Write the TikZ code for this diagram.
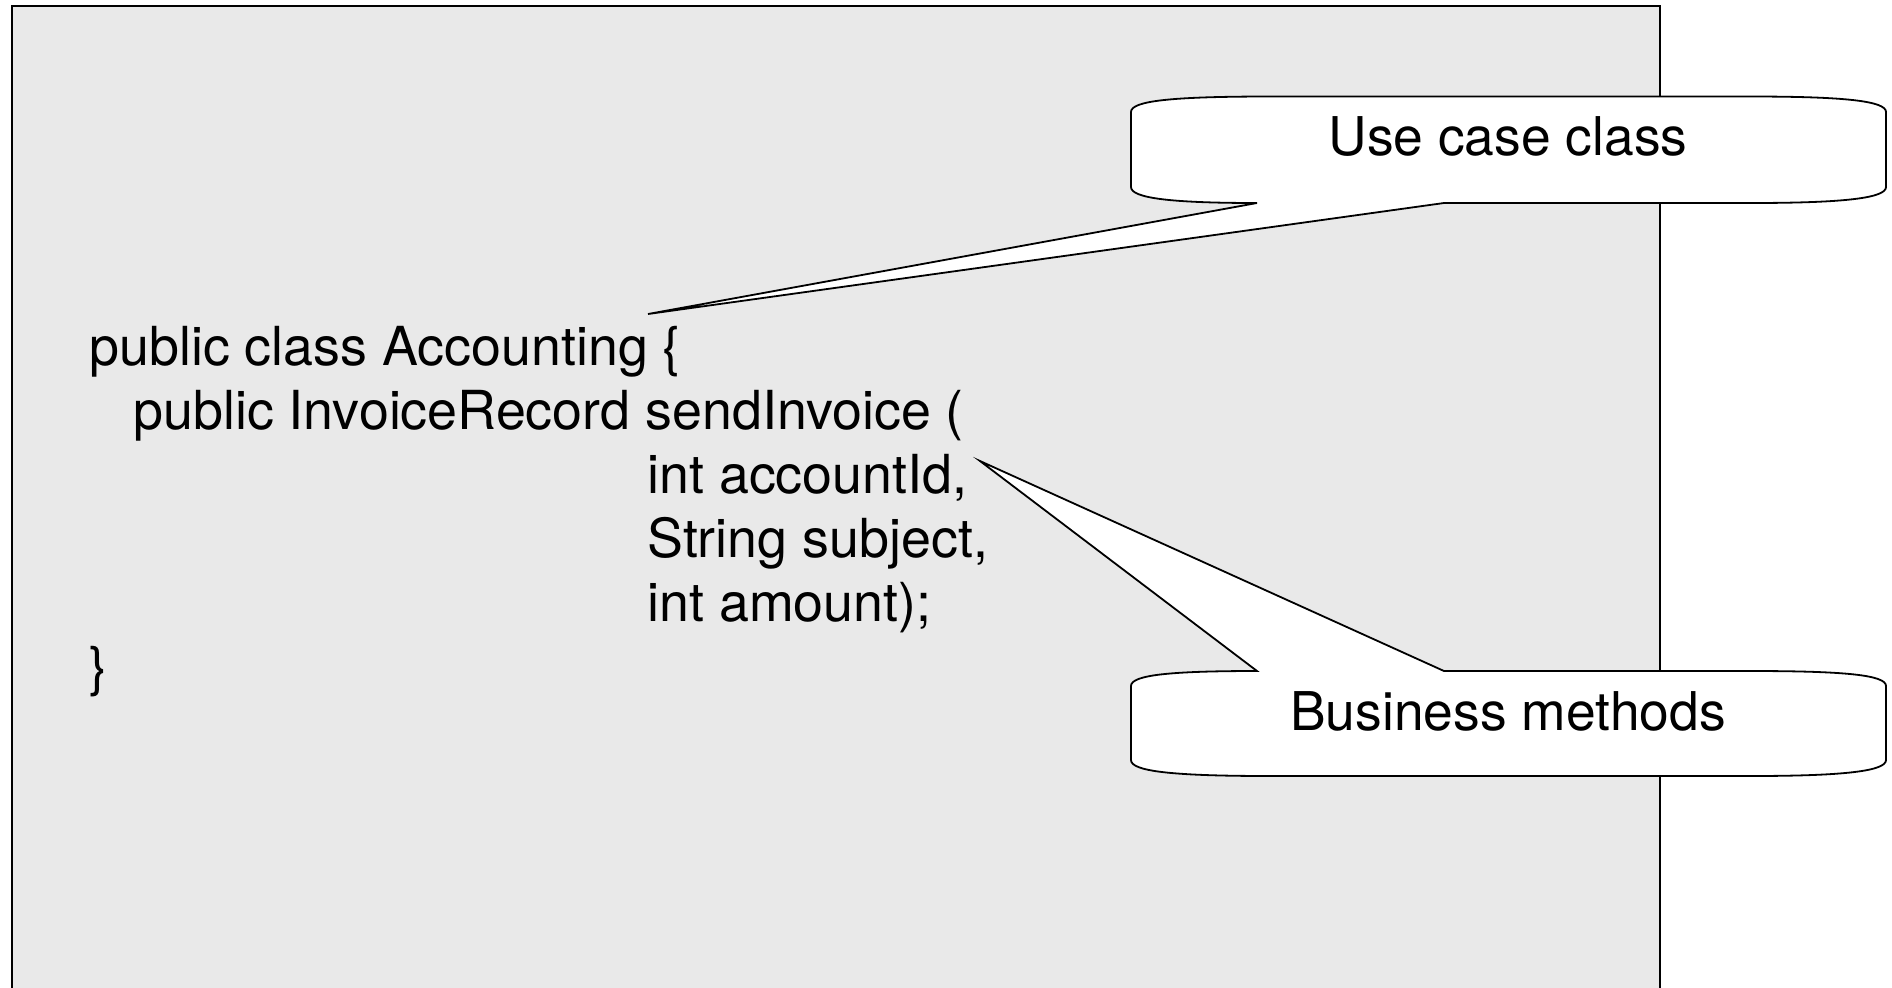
\documentclass[tikz,border=0pt]{standalone}
\usepackage{fontspec}
\setmainfont{TeX Gyre Heros}
\definecolor{panelgray}{RGB}{233,233,233}
\tikzset{
  panel/.style={draw=black, fill=panelgray, line width=1.1pt},
  callout/.style={draw=black, fill=white, line width=0.9pt, line join=miter},
  codeline/.style={anchor=base west, inner sep=0pt, font=\fontsize{26.9}{32}\selectfont},
  notetext/.style={anchor=base, inner sep=0pt, font=\fontsize{26.7}{32}\selectfont},
}
\begin{document}
\begin{tikzpicture}[x=0.5pt, y=-0.5pt]
  \clip (0,0) rectangle (1892,987);
  \fill[white] (0,0) rectangle (1892,987);

  % grey panel holding the source code
  \draw[panel] (12,6) rectangle (1660,1010);

  % source code
  \node[codeline] (l1) at (89,365) {public class Accounting \{};
  \node[codeline] (l2) at (133,429) {public InvoiceRecord sendInvoice (};
  \node[codeline] (l3) at (647,493) {int accountId,};
  \node[codeline] (l4) at (647,557) {String subject,};
  \node[codeline] (l5) at (647,621) {int amount);};
  \node[codeline] (l6) at (89,685) {\}};

  % callout tips
  \coordinate (tipA) at (648,314);
  \coordinate (tipB) at (980,461);

  % callout: use case class
  \draw[callout]
    (1131,112) -- (1131,187)
    .. controls (1131,198) and (1170,203) .. (1257,203)
    -- (tipA) -- (1444,203) -- (1750,203)
    .. controls (1845,203) and (1886,198) .. (1886,187)
    -- (1886,112)
    .. controls (1886,101) and (1845,96.5) .. (1750,96.5)
    -- (1270,96.5)
    .. controls (1170,96.5) and (1131,101) .. cycle;
  \node[notetext] (nA) at (1508,155) {Use case class};

  % callout: business methods
  \draw[callout]
    (1131,686) -- (1131,760)
    .. controls (1131,771) and (1170,776) .. (1270,776)
    -- (1750,776)
    .. controls (1845,776) and (1886,771) .. (1886,760)
    -- (1886,686)
    .. controls (1886,675) and (1845,671) .. (1750,671)
    -- (1444,671) -- (tipB) -- (1257,671)
    .. controls (1170,671) and (1131,675) .. cycle;
  \node[notetext] (nB) at (1508,730) {Business methods};
\end{tikzpicture}
\end{document}
